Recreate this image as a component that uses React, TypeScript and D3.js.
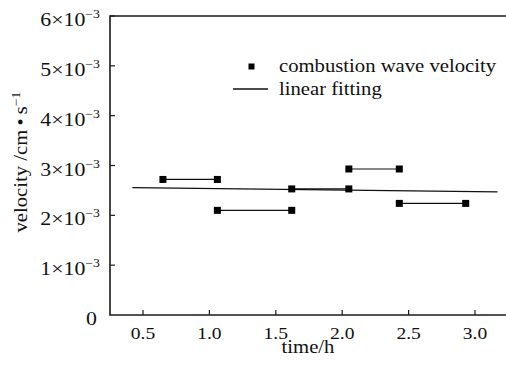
import React, { useEffect, useRef } from 'react';
import * as d3 from 'd3';

// measured segments: pairs of points (time h, velocity cm/s)
const segStart = [0.65, 1.06, 1.62, 2.05, 2.43];
const segEnd = [1.06, 1.62, 2.05, 2.43, 2.93];
const segVelocity = [2.72e-3, 2.1e-3, 2.53e-3, 2.93e-3, 2.24e-3];

// linear fit endpoints
const fitX = [0.42, 3.17];
const fitY = [2.555e-3, 2.47e-3];

const xTicks = [0.5, 1.0, 1.5, 2.0, 2.5, 3.0];
const yTicks = [0, 1, 2, 3, 4, 5, 6];

const legendLabels = ['combustion wave velocity', 'linear fitting'];

function App() {
  const svgRef = useRef<SVGSVGElement>(null);

  useEffect(() => {
    const width = 506;
    const height = 369;
    const left = 110;
    const right = 506;
    const top = 16;
    const bottom = 315;
    const sx = 1.15; // the source font is set wide

    const svg = d3.select(svgRef.current)
      .attr('width', width)
      .attr('height', height)
      .style('font-family', 'Liberation Serif');
    svg.selectAll('*').remove();

    // wide text: a group scaled horizontally around its anchor point
    const wideText = (parent, x, y, size, anchor, rot = 0) => {
      const g = parent.append('g')
        .attr('transform', `translate(${x},${y}) rotate(${rot}) scale(${sx},1)`);
      return g.append('text')
        .attr('text-anchor', anchor)
        .attr('fill', '#111')
        .style('font-size', `${size}px`);
    };

    // 0.5 sits at x=143, 3.0 at x=475
    const pxPerUnit = (475 - 143) / 2.5;
    const x = d3.scaleLinear()
      .domain([0.5 - (143 - left) / pxPerUnit, 3.0 + (right - 475) / pxPerUnit])
      .range([left, right]);
    const y = d3.scaleLinear().domain([0, 6e-3]).range([bottom, top]);

    // frame: left, top, bottom
    svg.append('path')
      .attr('d', `M${right},${top}H${left}V${bottom}H${right}`)
      .attr('fill', 'none')
      .attr('stroke', '#1a1a1a')
      .attr('stroke-width', 1.6);

    // x ticks (inward)
    xTicks.forEach(t => {
      svg.append('line')
        .attr('x1', x(t)).attr('x2', x(t))
        .attr('y1', bottom).attr('y2', bottom - 5)
        .attr('stroke', '#1a1a1a').attr('stroke-width', 1.2);
      wideText(svg, x(t), bottom + 24, 17, 'middle').text(d3.format('.1f')(t));
    });

    // y ticks
    yTicks.forEach(t => {
      const yy = y(t * 1e-3);
      if (t > 0) {
        svg.append('line')
          .attr('x1', left).attr('x2', left + 5)
          .attr('y1', yy).attr('y2', yy)
          .attr('stroke', '#1a1a1a').attr('stroke-width', 1.2);
      }
      const txt = wideText(svg, t === 0 ? 97 : 100, yy + 10, 19, 'end');
      if (t === 0) {
        txt.text('0');
      } else {
        txt.append('tspan').text(`${t}\u00d710`);
        txt.append('tspan').attr('dy', -8).style('font-size', '12px').text('\u22123');
      }
    });

    // axis titles
    wideText(svg, 308, 353, 18, 'middle').text('time/h');

    const yl = wideText(svg, 27, 162, 18, 'middle', -90);
    yl.append('tspan').text('velocity /cm\u2009\u2022\u2009s');
    yl.append('tspan').attr('dy', -7).style('font-size', '12px').text('\u22121');

    // linear fit
    const line = d3.line<number>()
      .x((d, i) => x(fitX[i]))
      .y(d => y(d));
    svg.append('path')
      .datum(fitY)
      .attr('d', line)
      .attr('fill', 'none')
      .attr('stroke', '#111')
      .attr('stroke-width', 1.2);

    // segments
    const ms = 7;
    segVelocity.forEach((v, i) => {
      svg.append('line')
        .attr('x1', x(segStart[i])).attr('x2', x(segEnd[i]))
        .attr('y1', y(v)).attr('y2', y(v))
        .attr('stroke', '#111').attr('stroke-width', 1.2);
      [segStart[i], segEnd[i]].forEach(t => {
        svg.append('rect')
          .attr('x', x(t) - ms / 2).attr('y', y(v) - ms / 2)
          .attr('width', ms).attr('height', ms)
          .attr('fill', '#000');
      });
    });

    // legend
    svg.append('rect')
      .attr('x', 248.5).attr('y', 63.5).attr('width', 6).attr('height', 6)
      .attr('fill', '#000');
    wideText(svg, 279, 72, 18, 'start').text(legendLabels[0]);
    svg.append('line')
      .attr('x1', 233).attr('x2', 268)
      .attr('y1', 89).attr('y2', 89)
      .attr('stroke', '#111').attr('stroke-width', 1.3);
    wideText(svg, 279, 95, 18, 'start').text(legendLabels[1]);
  }, []);

  return <svg ref={svgRef} style={{ position: 'absolute', left: 0, top: 0, background: '#fff' }}></svg>;
}

export default App;
